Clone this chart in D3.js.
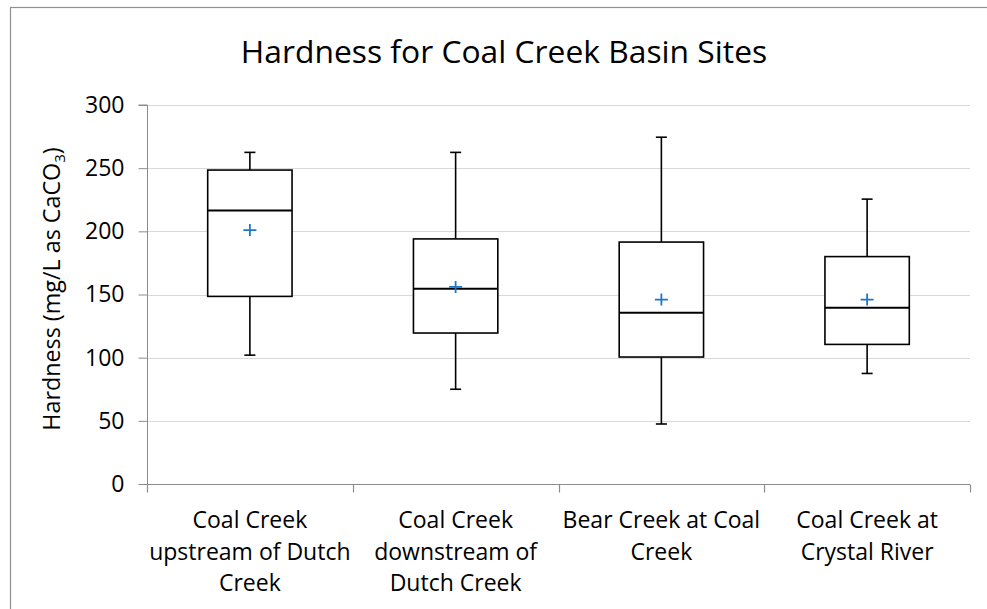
<!DOCTYPE html>
<html>
<head>
<meta charset="utf-8">
<script src="https://cdn.jsdelivr.net/npm/d3@7"></script>
<style>
  html, body { margin: 0; padding: 0; background: #ffffff; }
  svg { display: block; font-family: "Open Sans", "Noto Sans", sans-serif; }
</style>
</head>
<body>
<svg id="chart" width="987" height="609"></svg>
<script>
// ---- data ----
const categories = [
  "Coal Creek upstream of Dutch Creek",
  "Coal Creek downstream of Dutch Creek",
  "Bear Creek at Coal Creek",
  "Coal Creek at Crystal River"
];
const categoryLines = [
  ["Coal Creek", "upstream of Dutch", "Creek"],
  ["Coal Creek", "downstream of", "Dutch Creek"],
  ["Bear Creek at Coal", "Creek"],
  ["Coal Creek at", "Crystal River"]
];
const minValues    = [102, 75, 47.5, 87.5];
const q1Values     = [148.5, 119.5, 100.5, 110.5];
const medianValues = [216.5, 154.5, 135.5, 139.5];
const q3Values     = [248.5, 194, 191.5, 180];
const maxValues    = [262.5, 262.5, 274.5, 225.5];
const meanValues   = [201, 156, 146, 146];
const yTicks = [0, 50, 100, 150, 200, 250, 300];

const title = "Hardness for Coal Creek Basin Sites";

// ---- layout ----
const W = 987, H = 609;
const plot = { left: 147, right: 970, top: 105, bottom: 484 };

const svg = d3.select("#chart");

svg.append("rect").attr("x", 0).attr("y", 0).attr("width", W).attr("height", H).attr("fill", "#fff");
svg.append("rect")
  .attr("x", 10.5).attr("y", 7.5).attr("width", 1000).attr("height", 700)
  .attr("fill", "#fff").attr("stroke", "#8f8f8f").attr("stroke-width", 1.2);

const y = d3.scaleLinear().domain([0, 300]).range([plot.bottom, plot.top]);
const x = d3.scaleBand().domain(categories).range([plot.left, plot.right]).padding(0);

// gridlines
svg.append("g").selectAll("line")
  .data(yTicks.filter(d => d > 0))
  .join("line")
  .attr("x1", plot.left).attr("x2", plot.right)
  .attr("y1", d => Math.round(y(d)) + 0.5).attr("y2", d => Math.round(y(d)) + 0.5)
  .attr("stroke", "#d9d9d9").attr("stroke-width", 1.2);

// y axis
const yAxis = svg.append("g")
  .attr("transform", `translate(${plot.left + 0.5},0)`)
  .call(d3.axisLeft(y).tickValues(yTicks).tickSize(9).tickPadding(14).tickFormat(d3.format("d")));
yAxis.select(".domain").attr("stroke", "#8c8c8c").attr("d", `M-9,${y(300)}H0V${plot.bottom + 8}`);
yAxis.selectAll(".tick line").attr("stroke", "#8c8c8c");
yAxis.selectAll(".tick text").attr("fill", "#000").style("font-size", "23px").style("font-family", '"Open Sans", sans-serif');

// x axis
const xAxisG = svg.append("g").attr("transform", `translate(0,${plot.bottom + 0.5})`);
xAxisG.append("line").attr("x1", plot.left).attr("x2", plot.right).attr("stroke", "#8c8c8c").attr("stroke-width", 1.2);
const boundaries = categories.map(c => x(c)).concat([x.range()[1]]);
xAxisG.selectAll("line.tk").data(boundaries).join("line").attr("class", "tk")
  .attr("x1", d => Math.round(d) + 0.5).attr("x2", d => Math.round(d) + 0.5)
  .attr("y1", 0).attr("y2", 8).attr("stroke", "#8c8c8c").attr("stroke-width", 1.2);

// category labels
const labG = svg.append("g");
categories.forEach((c, i) => {
  const t = labG.append("text")
    .attr("x", x(c) + x.bandwidth() / 2)
    .attr("y", plot.bottom + 44)
    .attr("text-anchor", "middle")
    .style("font-size", "23px").attr("fill", "#000");
  categoryLines[i].forEach((ln, j) => {
    t.append("tspan").attr("x", x(c) + x.bandwidth() / 2).attr("dy", j === 0 ? 0 : 31.7).text(ln);
  });
});

// title
svg.append("text").attr("x", 504).attr("y", 63).attr("text-anchor", "middle")
  .style("font-size", "31.8px").attr("fill", "#000").text(title);

// y axis title
const yt = svg.append("text")
  .attr("transform", `translate(60,289) rotate(-90)`)
  .attr("text-anchor", "middle").style("font-size", "23.3px").attr("fill", "#000");
yt.append("tspan").text("Hardness (mg/L as CaCO");
yt.append("tspan").attr("dy", 5).style("font-size", "15px").text("3");
yt.append("tspan").attr("dy", -5).text(")");

// boxes
const boxW = x.bandwidth() * 0.41;
const capW = 11;
const stats = categories.map((c, i) => ({
  c, min: minValues[i], q1: q1Values[i], med: medianValues[i], q3: q3Values[i], max: maxValues[i], mean: meanValues[i]
}));
const bg = svg.append("g").selectAll("g").data(stats).join("g")
  .attr("transform", d => `translate(${x(d.c) + x.bandwidth() / 2},0)`);
const stroke = "#000", sw = 1.6;
// whiskers
bg.append("line").attr("x1", 0).attr("x2", 0).attr("y1", d => y(d.max)).attr("y2", d => y(d.q3)).attr("stroke", stroke).attr("stroke-width", sw);
bg.append("line").attr("x1", 0).attr("x2", 0).attr("y1", d => y(d.q1)).attr("y2", d => y(d.min)).attr("stroke", stroke).attr("stroke-width", sw);
bg.append("line").attr("x1", -capW / 2).attr("x2", capW / 2).attr("y1", d => y(d.max)).attr("y2", d => y(d.max)).attr("stroke", stroke).attr("stroke-width", sw);
bg.append("line").attr("x1", -capW / 2).attr("x2", capW / 2).attr("y1", d => y(d.min)).attr("y2", d => y(d.min)).attr("stroke", stroke).attr("stroke-width", sw);
// box
bg.append("rect").attr("x", -boxW / 2).attr("width", boxW)
  .attr("y", d => y(d.q3)).attr("height", d => y(d.q1) - y(d.q3))
  .attr("fill", "#fff").attr("stroke", stroke).attr("stroke-width", sw);
// median
bg.append("line").attr("x1", -boxW / 2).attr("x2", boxW / 2).attr("y1", d => y(d.med)).attr("y2", d => y(d.med)).attr("stroke", stroke).attr("stroke-width", 2);
// mean marker
const pm = 6.5;
bg.append("path")
  .attr("d", d => `M${-pm},${y(d.mean)}H${pm}M0,${y(d.mean) - pm + 0.5}V${y(d.mean) + pm - 0.5}`)
  .attr("stroke", "#1f77c8").attr("stroke-width", 1.8).attr("fill", "none");
</script>
</body>
</html>
